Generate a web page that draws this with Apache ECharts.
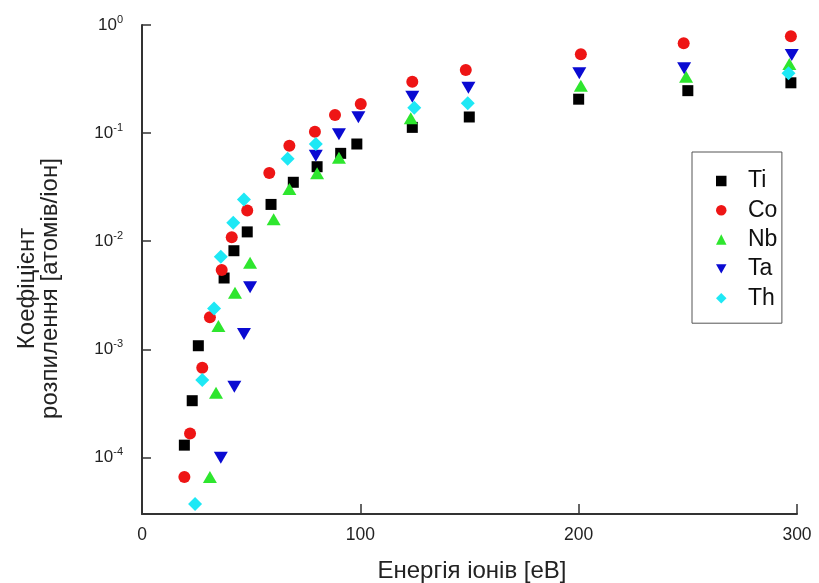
<!DOCTYPE html>
<html>
<head>
<meta charset="utf-8">
<script src="https://cdn.jsdelivr.net/npm/echarts@6/dist/echarts.min.js"></script>
<style>
html,body{margin:0;padding:0;background:#fff;}
#chart{width:819px;height:583px;}
</style>
</head>
<body>
<div id="chart"></div>
<script>
// ---- data ----
const seriesNames = ['Ti', 'Co', 'Nb', 'Ta', 'Th'];

const tiX = [19.4, 23.0, 25.8, 37.6, 42.1, 48.2, 59.1, 69.3, 80.2, 91.0, 98.4, 123.8, 149.9, 200.0, 250.0, 297.2];
const tiY = [1.30e-4, 3.35e-4, 1.08e-3, 4.57e-3, 8.17e-3, 1.22e-2, 2.19e-2, 3.51e-2, 4.89e-2, 6.50e-2, 7.93e-2, 0.113, 0.141, 0.206, 0.247, 0.292];

const coX = [19.4, 22.0, 27.6, 31.1, 36.5, 41.1, 48.2, 58.3, 67.5, 79.2, 88.4, 100.2, 123.8, 148.3, 201.0, 248.1, 297.2];
const coY = [6.59e-5, 1.67e-4, 6.76e-4, 1.98e-3, 5.42e-3, 1.09e-2, 1.92e-2, 4.28e-2, 7.64e-2, 0.103, 0.147, 0.186, 0.299, 0.384, 0.536, 0.677, 0.786];

const nbX = [31.1, 33.9, 35.0, 42.6, 49.5, 60.3, 67.5, 80.2, 90.2, 123.1, 201.0, 249.2, 296.5];
const nbY = [6.59e-5, 3.97e-4, 1.64e-3, 3.34e-3, 6.33e-3, 1.60e-2, 3.04e-2, 4.25e-2, 5.92e-2, 0.137, 0.274, 0.332, 0.436];

const taX = [36.1, 42.3, 46.7, 49.5, 79.6, 90.2, 99.1, 123.8, 149.5, 200.3, 248.3, 297.6];
const taY = [9.94e-5, 4.51e-4, 1.39e-3, 3.75e-3, 6.18e-2, 9.75e-2, 0.140, 0.217, 0.263, 0.357, 0.398, 0.528];

const thX = [24.3, 27.6, 33.0, 36.1, 41.8, 46.7, 66.7, 79.6, 124.7, 149.2, 296.1];
const thY = [3.71e-5, 5.20e-4, 2.39e-3, 7.19e-3, 1.48e-2, 2.43e-2, 5.80e-2, 7.93e-2, 0.172, 0.189, 0.357];

const xTicks = [0, 100, 200, 300];
const xAxisTitle = 'Енергія іонів [еВ]';
const yAxisTitle = 'Коефіцієнт\nрозпилення [атомів/іон]';

// ---- chart ----
const FONT = '"Liberation Sans", Arial, sans-serif';
const zip = (xs, ys) => xs.map((x, i) => [x, ys[i]]);

const styles = {
  Ti: { symbol: 'rect', size: 11, color: '#000000' },
  Co: { symbol: 'circle', size: 12, color: '#ee1515' },
  Nb: { symbol: 'triangle', size: [14, 12], color: '#2ee62e' },
  Ta: { symbol: 'path://M0,0L2,0L1,1.75Z', size: [14, 12], color: '#0a0ad2' },
  Th: { symbol: 'diamond', size: [14, 14], color: '#1ee8f5' }
};
const dataMap = {
  Ti: zip(tiX, tiY), Co: zip(coX, coY), Nb: zip(nbX, nbY), Ta: zip(taX, taY), Th: zip(thX, thY)
};

const chart = echarts.init(document.getElementById('chart'), null, { renderer: 'canvas' });

chart.setOption({
  animation: false,
  backgroundColor: '#ffffff',
  textStyle: { fontFamily: FONT },
  grid: { left: 142, right: 22, top: 25, bottom: 69, containLabel: false, outerBoundsMode: 'none' },
  legend: {
    orient: 'vertical',
    left: 692, top: 152,
    padding: [17.5, 4.5, 13.5, 24],
    itemWidth: 10.5, itemHeight: 10.5,
    itemGap: 6.3,
    borderColor: '#555555', borderWidth: 1,
    backgroundColor: '#ffffff',
    data: seriesNames,
    textStyle: { fontSize: 23, lineHeight: 23, color: '#111111', fontFamily: FONT, padding: [0, 0, 0, 16.5] }
  },
  xAxis: {
    type: 'value',
    min: xTicks[0], max: xTicks[xTicks.length - 1], interval: 100,
    name: xAxisTitle,
    nameLocation: 'middle',
    nameGap: 45,
    nameTextStyle: { fontSize: 24, color: '#222222', fontFamily: FONT, padding: [0, 0, 0, 5] },
    axisLine: { show: true, onZero: false, lineStyle: { color: '#333333', width: 2 } },
    axisTick: { show: true, inside: true, length: 10, lineStyle: { color: '#333333', width: 1.5 } },
    axisLabel: { fontSize: 17.5, color: '#222222', margin: 12, fontFamily: FONT },
    splitLine: { show: false }
  },
  yAxis: {
    type: 'log',
    logBase: 10,
    min: 3e-5, max: 1,
    name: yAxisTitle,
    nameLocation: 'middle',
    nameRotate: 90,
    nameGap: 80,
    nameTextStyle: { fontSize: 24, lineHeight: 23, color: '#222222', fontFamily: FONT, padding: [0, 38, 0, 0] },
    axisLine: { show: true, onZero: false, lineStyle: { color: '#333333', width: 2 } },
    axisTick: { show: true, inside: true, length: 9, lineStyle: { color: '#333333', width: 1.5 } },
    axisLabel: {
      margin: 19,
      color: '#222222',
      fontSize: 17,
      lineHeight: 22,
      fontFamily: FONT,
      showMinLabel: false,
      formatter: function (v) {
        const l = Math.log10(v);
        const e = Math.round(l);
        if (Math.abs(l - e) > 1e-6) return '';
        return '10{s|' + e + '}';
      },
      rich: { s: { fontSize: 11, lineHeight: 11, verticalAlign: 'top', color: '#222222', fontFamily: FONT } }
    },
    splitLine: { show: false }
  },
  series: seriesNames.map(n => ({
    name: n,
    type: 'scatter',
    symbol: styles[n].symbol,
    symbolSize: styles[n].size,
    itemStyle: { color: styles[n].color, opacity: 1 },
    data: dataMap[n]
  }))
});
</script>
</body>
</html>
